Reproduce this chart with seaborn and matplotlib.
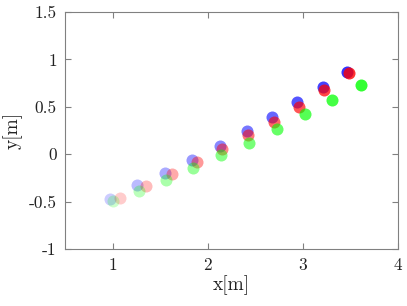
import numpy as np
import pandas as pd
import matplotlib
matplotlib.use("Agg")
import matplotlib.pyplot as plt
import seaborn as sns

blue_x = [0.975, 1.262, 1.556, 1.839, 2.13, 2.41, 2.675, 2.94, 3.21, 3.46]
blue_y = [-0.47, -0.33, -0.195, -0.06, 0.087, 0.245, 0.396, 0.554, 0.705, 0.864]
red_x = [1.083, 1.35, 1.62, 1.885, 2.154, 2.427, 2.693, 2.96, 3.218, 3.48]
red_y = [-0.459, -0.335, -0.206, -0.082, 0.052, 0.203, 0.34, 0.501, 0.68, 0.853]
green_x = [1.0, 1.276, 1.563, 1.846, 2.137, 2.43, 2.725, 3.018, 3.31, 3.61]
green_y = [-0.497, -0.385, -0.269, -0.149, -0.012, 0.121, 0.263, 0.421, 0.575, 0.727]
step = list(range(10))

x_ticks = [1, 2, 3, 4]
y_ticks = [-1, -0.5, 0, 0.5, 1, 1.5]
y_tick_labels = ["-1", "-0.5", "0", "0.5", "1", "1.5"]

sns.set_style("ticks")
plt.rcParams["font.family"] = ["cmr10", "DejaVu Serif"]
plt.rcParams["mathtext.fontset"] = "cm"
plt.rcParams["axes.unicode_minus"] = False
plt.rcParams["axes.formatter.use_mathtext"] = True

fig = plt.figure(figsize=(4.07, 3.06), dpi=100)
ax = fig.add_axes([65 / 407, 1 - 249 / 306, (398 - 65) / 407, (249 - 12) / 306])

alphas = np.linspace(0.2, 0.8, 10)
series = [(blue_x, blue_y, (0, 0, 1)), (red_x, red_y, (1, 0, 0)), (green_x, green_y, (0, 1, 0))]
for i in range(10):
    for xs, ys, c in series:
        df = pd.DataFrame({"x": [xs[i]], "y": [ys[i]]})
        sns.scatterplot(data=df, x="x", y="y", color=c, alpha=alphas[i], s=75,
                        linewidth=0, ax=ax, legend=False)

ax.set_xlim(0.5, 4)
ax.set_ylim(-1, 1.5)
ax.set_xticks(x_ticks)
ax.set_xticklabels([str(t) for t in x_ticks])
ax.set_yticks(y_ticks)
ax.set_yticklabels(y_tick_labels)
ax.tick_params(direction="in", length=4, color="#808080", labelsize=12.5,
               top=True, right=True, labelcolor="#222222", pad=6)
for sp in ax.spines.values():
    sp.set_color("#808080")
    sp.set_linewidth(0.8)
ax.set_xlabel("x[m]", fontsize=14, labelpad=2, color="#222222")
ax.set_ylabel("y[m]", fontsize=14, labelpad=4, color="#222222")

fig.savefig("out.png", dpi=100)
